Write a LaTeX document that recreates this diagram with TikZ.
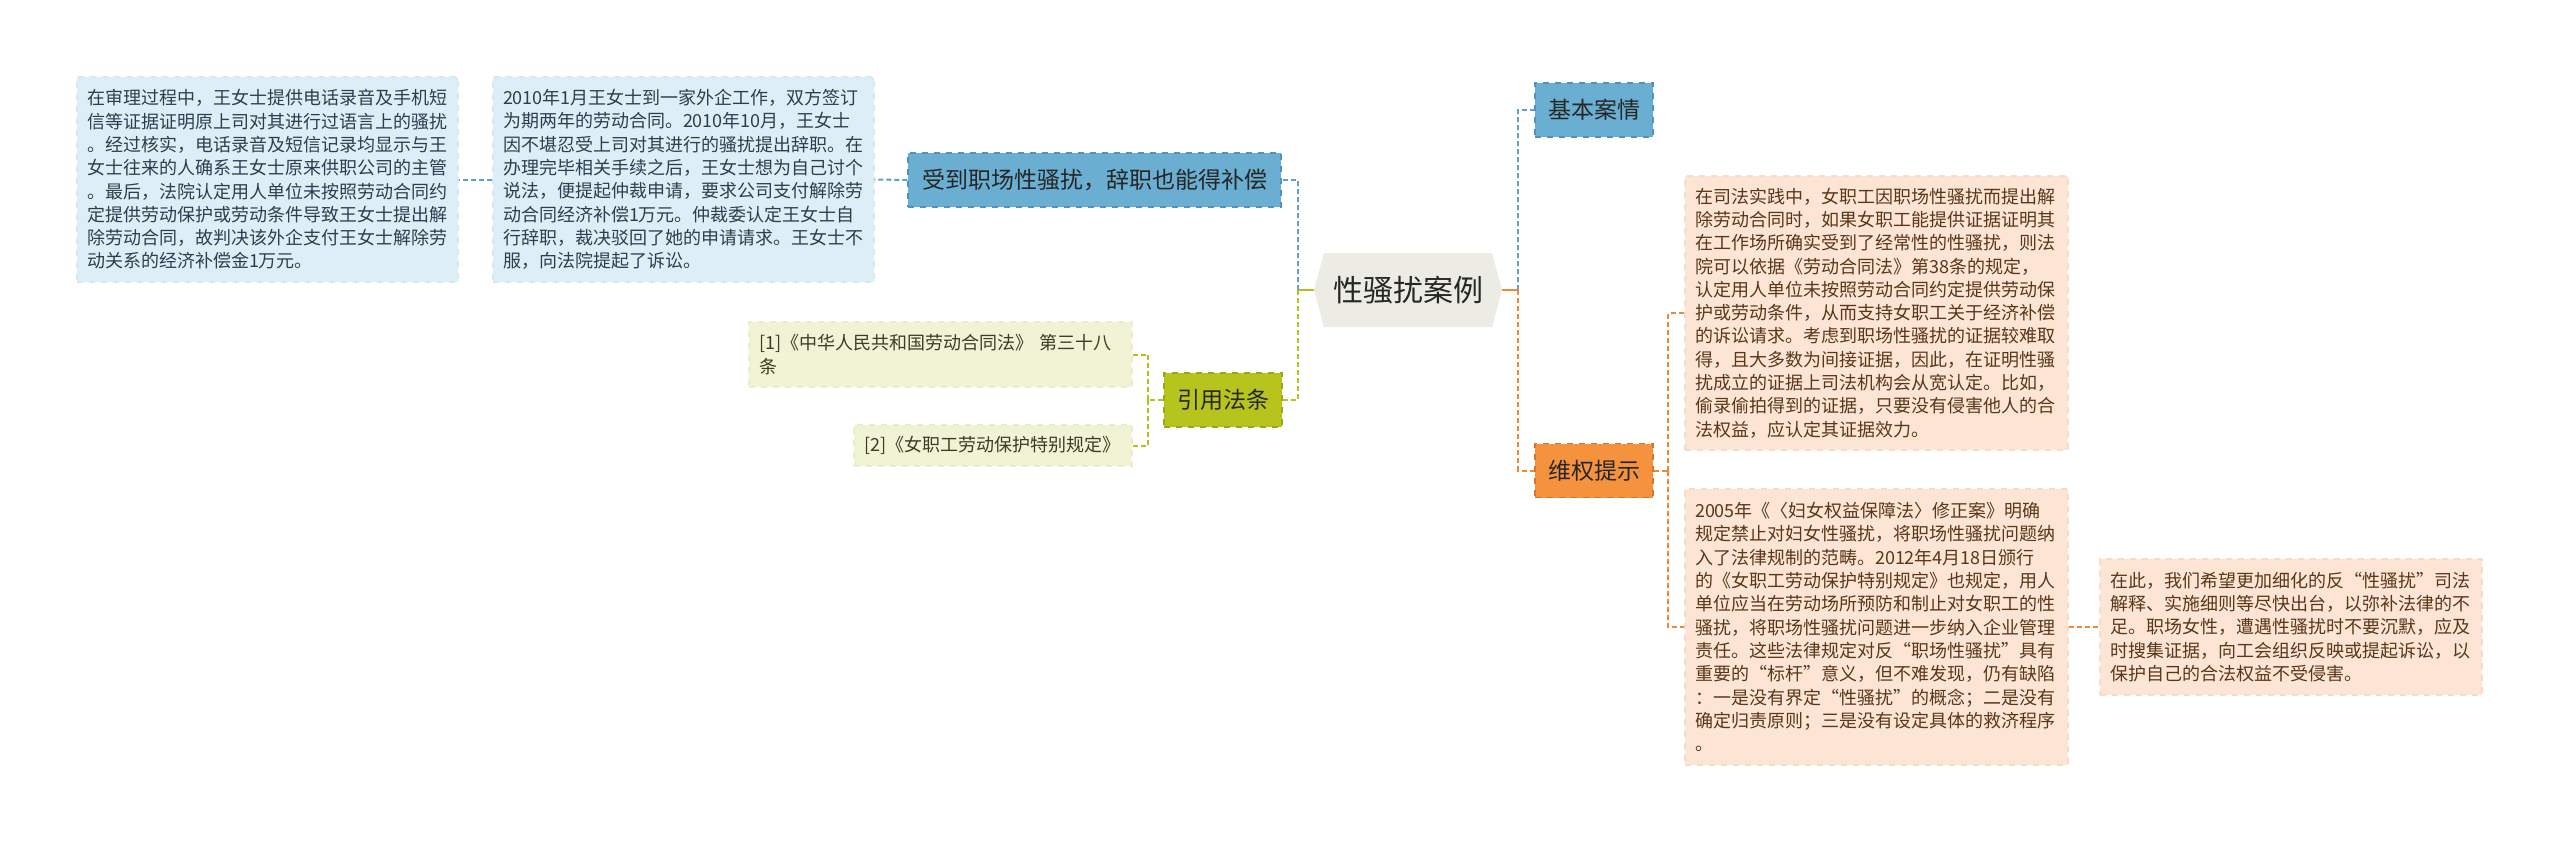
\documentclass[tikz,border=0pt]{standalone}
\usepackage{fontspec}
\newfontfamily\cjk{Noto Sans CJK SC}
\usetikzlibrary{shapes.symbols}

\definecolor{rootfill}{HTML}{ECECE4}
\definecolor{bluefill}{HTML}{6AAED2}
\definecolor{blueedge}{HTML}{4F93BD}
\definecolor{bluepale}{HTML}{DEEEF7}
\definecolor{bluepaleedge}{HTML}{D6E8F3}
\definecolor{bluetext}{HTML}{2B3F4E}
\definecolor{blueline}{HTML}{5AA2CB}
\definecolor{greenfill}{HTML}{B8C41E}
\definecolor{greenedge}{HTML}{9AA814}
\definecolor{greenpale}{HTML}{F0F3D4}
\definecolor{greenpaleedge}{HTML}{E9EDC8}
\definecolor{greentext}{HTML}{3C3C28}
\definecolor{greenline}{HTML}{B3C11C}
\definecolor{orangefill}{HTML}{F5923E}
\definecolor{orangeedge}{HTML}{D97428}
\definecolor{orangepale}{HTML}{FCE5D4}
\definecolor{orangepaleedge}{HTML}{F7DBC6}
\definecolor{orangetext}{HTML}{5A3719}
\definecolor{orangeline}{HTML}{EE8A33}

\begin{document}
\begin{tikzpicture}[
  x=0.5pt, y=-0.5pt,
  root/.style={
    signal,
    signal to=west and east,
    signal pointer angle=150,
    fill=rootfill,
    minimum width=94pt,
    minimum height=37pt,
    inner sep=0pt,
    text=black!85,
    font=\cjk\fontsize{15pt}{17pt}\selectfont
  },
  topic/.style={
    rectangle,
    dashed,
    line width=0.75pt,
    minimum height=27pt,
    inner sep=0pt,
    text=black!85,
    font=\cjk\fontsize{11.5pt}{13pt}\selectfont
  },
  leaf/.style={
    rectangle,
    dashed,
    line width=0.6pt,
    inner xsep=5pt,
    inner ysep=0pt,
    align=left,
    font=\cjk\fontsize{9pt}{11.65pt}\selectfont
  },
  bluetopic/.style={topic, fill=bluefill, draw=blueedge},
  greentopic/.style={topic, fill=greenfill, draw=greenedge},
  orangetopic/.style={topic, fill=orangefill, draw=orangeedge},
  blueleaf/.style={leaf, fill=bluepale, draw=bluepaleedge, text=bluetext},
  greenleaf/.style={leaf, fill=greenpale, draw=greenpaleedge, text=greentext},
  orangeleaf/.style={leaf, fill=orangepale, draw=orangepaleedge, text=orangetext},
  link/.style={line width=1pt, dash pattern=on 2.5pt off 1.5pt},
  bluelink/.style={link, draw=blueline},
  greenlink/.style={link, draw=greenline},
  orangelink/.style={link, draw=orangeline}
]

\fill[white] (0,0) rectangle (2560,843);
\useasboundingbox (0,0) rectangle (2560,843);

% Root
\node[root] (root) at (1408,290) {性骚扰案例};

% Left branches
\node[bluetopic, minimum width=186.5pt] (harass) at (1094.5,180) {受到职场性骚扰，辞职也能得补偿};
\node[blueleaf, text width=180.5pt, minimum height=102.5pt] (story) at (683.5,179.5) {2010年1月王女士到一家外企工作，双方签订\\为期两年的劳动合同。2010年10月，王女士\\因不堪忍受上司对其进行的骚扰提出辞职。在\\办理完毕相关手续之后，王女士想为自己讨个\\说法，便提起仲裁申请，要求公司支付解除劳\\动合同经济补偿1万元。仲裁委认定王女士自\\行辞职，裁决驳回了她的申请请求。王女士不\\服，向法院提起了诉讼。};
\node[blueleaf, text width=180.5pt, minimum height=102.5pt] (trial) at (267.5,179.5) {在审理过程中，王女士提供电话录音及手机短\\信等证据证明原上司对其进行过语言上的骚扰\\。经过核实，电话录音及短信记录均显示与王\\女士往来的人确系王女士原来供职公司的主管\\。最后，法院认定用人单位未按照劳动合同约\\定提供劳动保护或劳动条件导致王女士提出解\\除劳动合同，故判决该外企支付王女士解除劳\\动关系的经济补偿金1万元。};

\node[greentopic, minimum width=59pt] (law) at (1223,400) {引用法条};
\node[greenleaf, text width=181.5pt, minimum height=32.5pt] (law1) at (940.5,354.5) {[1]《中华人民共和国劳动合同法》 第三十八\\条};
\node[greenleaf, text width=129pt, minimum height=20.5pt] (law2) at (993,445.5) {[2]《女职工劳动保护特别规定》};

% Right branches
\node[bluetopic, minimum width=59pt] (basic) at (1594,110) {基本案情};
\node[orangetopic, minimum width=59pt] (tips) at (1594,470.5) {维权提示};
\node[orangeleaf, text width=181.5pt, minimum height=137pt] (tip1) at (1876.5,313) {在司法实践中，女职工因职场性骚扰而提出解\\除劳动合同时，如果女职工能提供证据证明其\\在工作场所确实受到了经常性的性骚扰，则法\\院可以依据《劳动合同法》第38条的规定，\\认定用人单位未按照劳动合同约定提供劳动保\\护或劳动条件，从而支持女职工关于经济补偿\\的诉讼请求。考虑到职场性骚扰的证据较难取\\得，且大多数为间接证据，因此，在证明性骚\\扰成立的证据上司法机构会从宽认定。比如，\\偷录偷拍得到的证据，只要没有侵害他人的合\\法权益，应认定其证据效力。};
\node[orangeleaf, text width=181.5pt, minimum height=138pt] (tip2) at (1876.5,627) {2005年《〈妇女权益保障法〉修正案》明确\\规定禁止对妇女性骚扰，将职场性骚扰问题纳\\入了法律规制的范畴。2012年4月18日颁行\\的《女职工劳动保护特别规定》也规定，用人\\单位应当在劳动场所预防和制止对女职工的性\\骚扰，将职场性骚扰问题进一步纳入企业管理\\责任。这些法律规定对反“职场性骚扰”具有\\重要的“标杆”意义，但不难发现，仍有缺陷\\：一是没有界定“性骚扰”的概念；二是没有\\确定归责原则；三是没有设定具体的救济程序\\。};
\node[orangeleaf, text width=181pt, minimum height=68pt] (tip3) at (2291,627) {在此，我们希望更加细化的反“性骚扰”司法\\解释、实施细则等尽快出台，以弥补法律的不\\足。职场女性，遭遇性骚扰时不要沉默，应及\\时搜集证据，向工会组织反映或提起诉讼，以\\保护自己的合法权益不受侵害。};

% Joints
\coordinate (leftjoint) at (1298,290);
\coordinate (lawjoint) at (1148,400);
\coordinate (rightjoint) at (1518,290);
\coordinate (tipjoint) at (1668,470.5);

% Connectors left
\draw[line width=1pt, greenline] (root.west) -- (leftjoint);
\draw[bluelink] (leftjoint) |- (harass.east);
\draw[greenlink] (leftjoint) |- (law.east);
\draw[bluelink] (harass.west) -- (story.east);
\draw[bluelink] (story.west) -- (trial.east);
\draw[greenlink] (law.west) -- (lawjoint);
\draw[greenlink] (lawjoint) |- (law1.east);
\draw[greenlink] (lawjoint) |- (law2.east);

% Connectors right
\draw[line width=1pt, orangeline] (root.east) -- (rightjoint);
\draw[bluelink] (rightjoint) |- (basic.west);
\draw[orangelink] (rightjoint) |- (tips.west);
\draw[orangelink] (tips.east) -- (tipjoint);
\draw[orangelink] (tipjoint) |- (tip1.west);
\draw[orangelink] (tipjoint) |- (tip2.west);
\draw[orangelink] (tip2.east) -- (tip3.west);

\end{tikzpicture}
\end{document}
